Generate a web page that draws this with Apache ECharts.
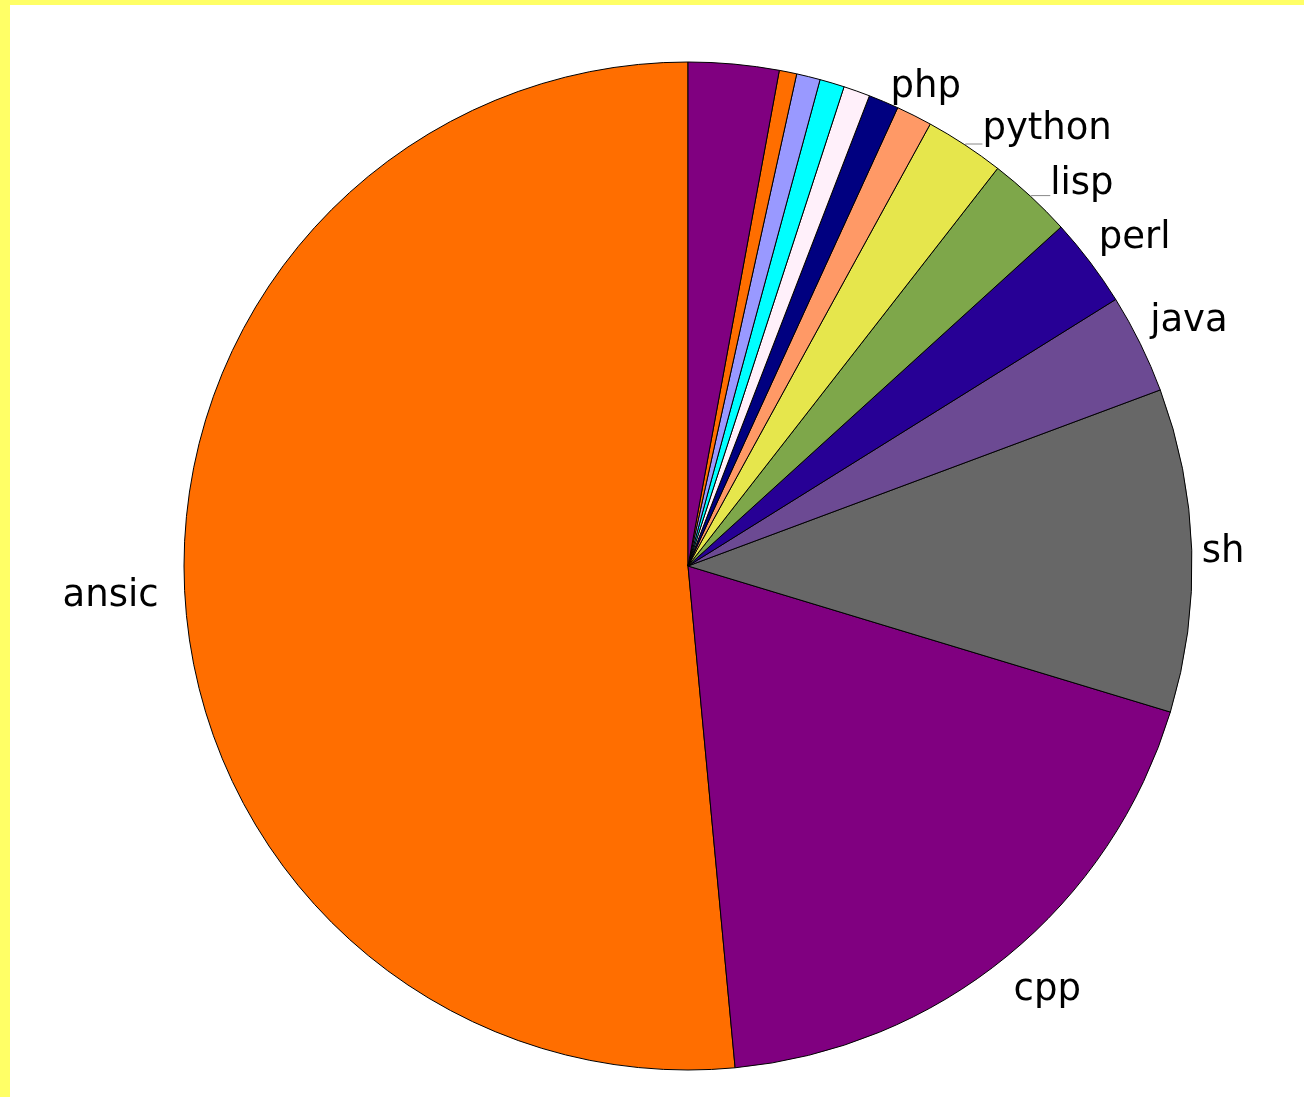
<!DOCTYPE html>
<html>
<head>
<meta charset="utf-8">
<title>Languages</title>
<script src="https://cdn.jsdelivr.net/npm/echarts@6/dist/echarts.min.js"></script>
<style>
  html, body { margin: 0; padding: 0; background: #ffff66; }
  #chart { position: absolute; left: 10px; top: 5px; width: 1294px; height: 1092px; background: #fff; }
</style>
</head>
<body>
<div id="chart"></div>
<script>
// share of code per language (percent), counter-clockwise from 12 o'clock
const languages = ['ansic', 'cpp', 'sh', 'java', 'perl', 'lisp', 'python', 'php', 'yacc', 'csh', 'tcl', 'ruby', 'asm', 'other']
const shares = [51.49, 18.83, 10.36, 3.19, 2.87, 2.73, 2.55, 1.15, 0.97, 0.85, 0.79, 0.76, 0.56, 2.90]
const labelled = ['ansic', 'cpp', 'sh', 'java', 'perl', 'lisp', 'python', 'php']

const colors = ['#ff6e00', '#800080', '#676767', '#6c4a93', '#270095', '#7ea74a', '#e6e64c', '#ff9966',
  '#000080', '#fff0fa', '#00ffff', '#9999ff', '#ff6e00', '#800080']

// label placement: [length2, padding top, padding bottom, show line]
const labelPos = {
  ansic: [25, 13, 0, false],
  cpp: [6, 67, 0, false],
  sh: [9, 4, 0, false],
  java: [9, 0, 43, false],
  perl: [8, 0, 46, false],
  lisp: [19, 0, 23, true],
  python: [17, 0, 30, true],
  php: [-24, 0, 55, false]
}

const chart = echarts.init(document.getElementById('chart'))

const data = languages.map((name, i) => {
  const item = { name: name, value: shares[i], itemStyle: { color: colors[i] } }
  const p = labelPos[name]
  if (labelled.includes(name) && p) {
    item.label = { show: true, padding: [p[1], 0, p[2], 0] }
    item.labelLine = { show: p[3], length: 1, length2: p[0] }
  } else {
    item.label = { show: false }
    item.labelLine = { show: false }
  }
  return item
})

chart.setOption({
  animation: false,
  series: [
    {
      type: 'pie',
      center: [678, 561],
      radius: 504,
      startAngle: 90,
      clockwise: false,
      avoidLabelOverlap: false,
      silent: true,
      data: data,
      itemStyle: {
        borderColor: '#000',
        borderWidth: 1
      },
      label: {
        position: 'outside',
        color: '#000',
        fontFamily: 'DejaVu Sans',
        fontSize: 37,
        distanceToLabelLine: 0,
        formatter: '{t|{b}}',
        rich: {
          t: { color: '#000', fontFamily: 'DejaVu Sans', fontSize: 37 }
        }
      },
      labelLine: {
        minTurnAngle: 0,
        maxSurfaceAngle: 180,
        lineStyle: { color: '#888', width: 1 }
      },
      emphasis: { disabled: true }
    }
  ]
})
</script>
</body>
</html>
